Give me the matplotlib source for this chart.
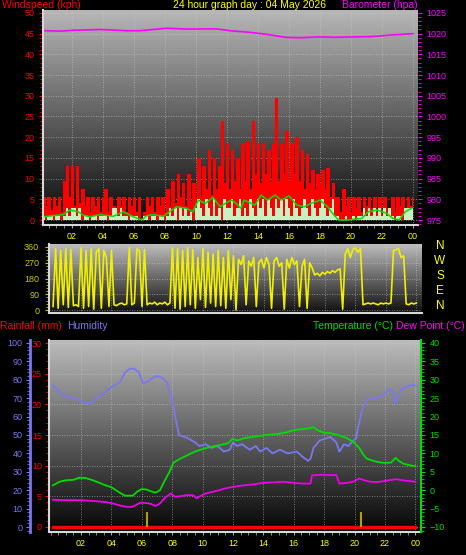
import numpy as np
import matplotlib
matplotlib.use("Agg")
import matplotlib.pyplot as plt
from matplotlib.ticker import MultipleLocator

plt.rcParams["font.family"] = ["Liberation Sans", "DejaVu Sans"]

# ---- data ----
hours = [2, 4, 6, 8, 10, 12, 14, 16, 18, 20, 22, 24]
hour_labels = ["02", "04", "06", "08", "10", "12", "14", "16", "18", "20", "22", "00"]

# 10 minute samples for windspeed / direction
wind_t = np.arange(1, 145) / 6.0
gust = [
    5.5, 3.5, 5.5, 2.5, 5.5, 3.5,      # 00
    5.5, 2.0, 9.5, 13.0, 5.5, 13.0,    # 01
    3.5, 13.0, 4.0, 7.5, 3.5, 5.5,     # 02
    2.0, 5.5, 3.5, 5.5, 2.0, 5.5,      # 03
    7.5, 2.0, 5.5, 3.5, 1.5, 5.5,      # 04
    3.5, 5.5, 2.0, 5.5, 3.5, 5.5,      # 05
    2.0, 5.5, 0.5, 2.0, 5.5, 3.5,      # 06
    5.5, 2.0, 5.5, 3.5, 5.5, 2.0,      # 07
    7.5, 3.5, 9.5, 4.0, 11.0, 5.5,     # 08
    9.0, 3.5, 11.0, 4.5, 9.0, 5.5,     # 09
    15.0, 5.5, 13.0, 7.5, 17.0, 6.0,   # 10
    15.0, 7.5, 13.0, 24.0, 9.0, 18.5,  # 11
    7.5, 17.0, 9.5, 15.0, 7.5, 18.5,   # 12
    9.5, 19.0, 7.5, 24.0, 11.0, 18.5,  # 13
    9.0, 18.5, 11.0, 17.0, 9.5, 18.5,  # 14
    29.5, 9.5, 18.5, 11.0, 21.5, 9.5,  # 15
    18.5, 11.0, 20.0, 9.5, 17.0, 7.5,  # 16
    16.0, 9.0, 12.0, 7.5, 11.0, 9.0,   # 17
    12.0, 7.5, 12.5, 5.5, 9.0, 5.5,    # 18
    5.5, 2.0, 7.5, 3.5, 5.5, 2.0,      # 19
    5.5, 3.0, 5.5, 2.0, 5.5, 3.5,      # 20
    5.5, 3.0, 5.5, 2.0, 5.5, 1.5,      # 21
    5.5, 3.0, 1.5, 5.5, 2.0, 5.5,      # 22
    3.5, 5.5, 3.0, 5.5, 3.5, 5.5,      # 23
]
speed = [
    1, 0, 1, 1, 0, 1,
    1, 0, 1, 3, 1, 3,
    3, 1, 3, 0, 1, 1,
    0, 1, 1, 0, 1, 1,
    1, 0, 1, 3, 3, 1,
    3, 1, 1, 0, 1, 1,
    1, 0, 0, 1, 1, 0,
    1, 1, 0, 1, 1, 0,
    1, 3, 1, 3, 0, 3,
    1, 3, 1, 2, 0, 3,
    5, 3, 1, 5, 3, 1,
    5, 1, 3, 0, 5, 3,
    3, 5, 1, 3, 5, 1,
    3, 1, 5, 3, 1, 5,
    3, 5, 1, 5, 3, 1,
    5, 3, 5, 1, 5, 3,
    1, 5, 3, 1, 3, 5,
    3, 1, 5, 3, 1, 3,
    5, 3, 1, 3, 5, 1,
    1, 0, 0, 1, 0, 0,
    1, 0, 1, 1, 3, 1,
    3, 1, 3, 1, 3, 1,
    3, 1, 3, 1, 0, 1,
    1, 0, 3, 3, 3, 3,
]
avg_t = [0.26, 0.6, 1.44, 1.87, 2.4, 2.7, 3.16, 3.8, 4.67, 5.3, 5.95, 6.5, 6.8,
         7.2, 7.9, 8.3, 8.75, 9.4, 9.8, 10.15, 10.6, 11.1, 11.55, 12.06, 12.3,
         12.6, 12.9, 13.1, 13.8, 14.2, 14.6, 15.1, 15.5, 16.0, 16.5, 17.0, 17.4,
         18.0, 18.5, 18.8, 19.2, 19.8, 20.7, 21.1, 21.7, 22.3, 22.7, 23.1, 23.5,
         23.9]
avg_v = [0.8, 1.0, 1.3, 2.4, 2.0, 1.2, 0.8, 1.3, 0.9, 2.0, 0.8, 0.0, 1.0,
         1.3, 0.9, 2.0, 3.2, 2.8, 2.0, 4.8, 4.0, 5.5, 3.2, 4.4, 4.8,
         4.0, 2.8, 4.8, 3.6, 6.0, 4.8, 6.0, 4.8, 5.8, 3.6, 3.2, 4.0,
         4.8, 3.2, 1.6, 0.0, 0.0, 0.4, 2.0, 2.4, 1.6, 0.4, 0.0, 2.0,
         2.8]
baro_t = [0.26, 1.2, 2.1, 3.8, 5.5, 6.4, 8.1, 9.4, 11.3, 12.2, 13.5, 14.6,
          15.8, 16.7, 18.0, 18.9, 20.2, 21.4, 22.7, 24.0]
baro_v = [1020.7, 1020.6, 1020.8, 1021.0, 1020.7, 1020.7, 1021.3, 1021.1,
          1021.15, 1020.7, 1020.3, 1019.8, 1019.1, 1019.0, 1019.2, 1019.1,
          1019.2, 1019.3, 1019.7, 1020.0]

wind_dir = [
    20, 350, 10, 340, 30, 350,
    15, 345, 25, 30, 20, 355,
    10, 340, 20, 350, 5, 330,
    350, 10, 340, 300, 20, 340,
    30, 25, 35, 40, 30, 35,
    355, 30, 40, 350, 340, 20,
    345, 30, 40, 35, 45, 30,
    40, 35, 45, 30, 40, 355,
    10, 350, 5, 340, 20, 355,
    30, 345, 10, 300, 60, 350,
    15, 330, 40, 320, 20, 340,
    25, 300, 10, 340, 60, 310,
    0, 290, 260, 310, 30, 280,
    250, 300, 20, 270, 290, 240,
    300, 260, 10, 280, 300, 250,
    270, 5, 290, 240, 300, 260,
    280, 20, 250, 290, 10, 270,
    240, 200, 210, 195, 215, 205,
    220, 210, 225, 215, 230, 235,
    5, 320, 350, 300, 345, 355,
    330, 350, 30, 35, 40, 35,
    40, 35, 30, 40, 35, 40,
    35, 40, 340, 345, 350, 300,
    310, 35, 30, 40, 35, 40,
]

hum_t = [0.15, 0.5, 1.0, 1.6, 2.15, 2.6, 2.9, 3.4, 3.8, 4.25, 4.6, 4.9, 5.2, 5.5,
         5.8, 6.1, 6.4, 6.7, 7.0, 7.4, 7.7, 7.9, 8.1, 8.25, 8.45, 8.8, 9.1, 9.5,
         9.8, 10.2, 10.6, 11.0, 11.4, 11.8, 12.0, 12.25, 12.6, 13.1, 13.5, 13.8,
         14.2, 14.6, 15.1, 15.6, 16.2, 16.6, 16.95, 17.1, 17.3, 17.7, 18.1, 18.4,
         18.8, 19.0, 19.3, 19.6, 19.9, 20.1, 20.25, 20.45, 20.6, 20.8, 21.1, 21.4,
         21.8, 22.3, 22.5, 22.65, 22.9, 23.1, 23.4, 23.65, 24.0]
hum_v = [77, 74, 71, 70, 68, 67, 69, 72, 75, 77, 79, 84, 86, 86,
         84, 78, 79, 81, 82, 81, 78, 72, 65, 58, 50, 49, 48, 46,
         44, 45, 43, 44, 41, 42, 46, 44, 45, 42, 44, 41,
         43, 40, 42, 40, 41, 38, 36, 37, 43, 47, 48, 49,
         46, 41, 45, 44, 47, 48, 55, 62, 66, 69, 70, 70,
         71, 75, 74, 67, 71, 75, 76, 77, 77]

temp_t = [0.15, 0.6, 1.0, 1.5, 1.9, 2.3, 2.7, 3.1, 3.5, 4.0, 4.3, 4.6, 4.9, 5.4,
          5.7, 6.0, 6.3, 6.6, 6.9, 7.2, 7.5, 7.8, 8.1, 8.5, 8.9, 9.5, 10.2, 10.8,
          11.3, 11.7, 11.95, 12.3, 12.8, 13.5, 14.2, 15.0, 15.6, 16.0, 16.6, 17.0,
          17.3, 17.6, 18.0, 18.4, 18.9, 19.4, 19.9, 20.3, 20.6, 20.8, 21.2, 21.6,
          22.0, 22.4, 22.7, 22.9, 23.2, 23.6, 24.0]
temp_v = [1.3, 2.3, 2.7, 2.8, 3.4, 3.3, 2.8, 2.2, 1.5, 0.8, 0.0, -0.8, -1.5, -1.5,
          -0.4, 0.3, 0.2, -0.3, -0.7, 0.0, 2.5, 4.8, 7.5, 8.5, 9.3, 10.5, 11.4, 12.0,
          12.4, 12.8, 13.9, 13.5, 14.2, 14.6, 15.0, 15.3, 15.8, 16.3, 16.6, 16.8,
          17.1, 16.2, 15.6, 15.5, 15.0, 14.3, 13.2, 11.5, 9.5, 8.6, 8.0, 7.6,
          7.4, 7.5, 8.8, 8.0, 7.2, 6.8, 6.5]

dew_t = [0.15, 1.0, 2.0, 3.0, 3.6, 4.1, 4.6, 5.0, 5.4, 5.9, 6.3, 6.6, 6.9, 7.2,
         7.5, 7.9, 8.2, 8.6, 9.0, 9.4, 9.6, 9.9, 10.2, 10.6, 11.1, 11.5, 12.0,
         12.5, 12.9, 13.4, 14.0, 14.6, 15.3, 16.0, 16.5, 17.1, 17.2, 17.8, 18.4,
         18.8, 19.0, 19.5, 19.9, 20.3, 20.7, 21.0, 21.5, 22.0, 22.7, 23.3, 24.0]
dew_v = [-2.6, -2.7, -2.7, -3.0, -3.2, -3.6, -4.2, -4.5, -4.5, -3.4, -3.5, -3.7,
         -4.3, -3.6, -2.2, -0.9, -1.8, -1.6, -1.3, -1.4, -2.2, -1.5, -0.9, -0.5,
         0.0, 0.5, 0.9, 1.2, 1.4, 1.6, 2.0, 2.1, 2.3, 2.0, 1.8, 1.8, 4.0, 4.2,
         4.1, 4.1, 1.8, 2.0, 2.3, 3.2, 2.6, 2.3, 2.2, 2.5, 3.0, 2.6, 2.3]

rain_t = [0.15, 24.0]
rain_v = [0.0, 0.0]
rate_t = [6.32, 20.4]
rate_v = [2.5, 2.5]

RED = "#ff0000"
MAG = "#ff00ff"
YEL = "#ffff00"
OLIVE = "#c8c800"
HUM = "#7878f0"
GRN = "#00dd00"
W, H = 466, 555
TS = 6.5


def box(l, t, r, b):
    return [l / W, 1 - b / H, (r - l) / W, (b - t) / H]


def shade(ax, top, bottom):
    g = np.linspace(top, bottom, 256).reshape(-1, 1)
    ax.imshow(g, cmap="gray", vmin=0, vmax=1, aspect="auto",
              extent=[0, 1, 0, 1], transform=ax.transAxes, zorder=0)


def frame(ax):
    for s in ax.spines.values():
        s.set_visible(False)
    for s in ("left", "bottom"):
        ax.spines[s].set_visible(True)
        ax.spines[s].set_color("#d8d8d8")
        ax.spines[s].set_linewidth(1.5)
    ax.grid(True, color="#d0d0d0", ls=(0, (1, 2)), lw=0.6, alpha=0.7)


fig = plt.figure(figsize=(W / 100, H / 100), dpi=100, facecolor="black")

# --- top panel: wind speed + barometer ---
ax = fig.add_axes(box(43, 10, 418, 225))
shade(ax, 0.72, 0.03)
ax.fill_between(wind_t, 0, gust, step="mid", color=RED, lw=0, zorder=2)
ax.plot(wind_t, gust, color=RED, lw=0.8, drawstyle="steps-mid", zorder=2)
ax.fill_between(wind_t, 0, speed, step="mid", color="#c8f0c0", lw=0, zorder=3)
ax.plot(avg_t, avg_v, color="#00e000", lw=1.1, zorder=4)
ax.set_xlim(0.13, 24.32)
ax.set_ylim(-1.2, 50.7)
ax.set_xticks(hours)
ax.set_xticklabels(hour_labels)
ax.xaxis.set_minor_locator(MultipleLocator(0.5))
ax.yaxis.set_major_locator(MultipleLocator(5))
ax.yaxis.set_minor_locator(MultipleLocator(1))
ax.tick_params(axis="x", which="both", colors="#a0a0a0", labelcolor=YEL,
               labelsize=TS, length=2, pad=3)
ax.tick_params(axis="y", which="both", colors=RED, labelsize=TS, length=3, pad=3)
ax.tick_params(axis="y", which="minor", length=2)
frame(ax)

bx = ax.twinx()
bx.plot(baro_t, baro_v, color=MAG, lw=1.2)
bx.set_ylim(973.8, 1025.7)
bx.yaxis.set_major_locator(MultipleLocator(5))
bx.yaxis.set_minor_locator(MultipleLocator(1))
bx.tick_params(axis="y", which="both", colors=MAG, labelsize=TS, length=3, pad=3)
bx.tick_params(axis="y", which="minor", length=2)
for s in bx.spines.values():
    s.set_visible(False)

# --- middle panel: wind direction ---
dx = fig.add_axes(box(49, 244, 422, 313))
shade(dx, 0.74, 0.06)
dx.plot(wind_t, wind_dir, color="#f0f000", lw=1.2, zorder=2)
dx.set_xlim(-0.1, 24.37)
dx.set_ylim(-17, 377)
dx.set_xticks(hours)
dx.set_xticklabels([])
dx.tick_params(axis="x", length=0)
dx.yaxis.set_major_locator(MultipleLocator(90))
dx.yaxis.set_minor_locator(MultipleLocator(18))
dx.tick_params(axis="y", which="both", colors=OLIVE, labelsize=TS, length=3, pad=4)
dx.tick_params(axis="y", which="minor", length=2)
frame(dx)

# --- bottom panel: rain, humidity, temperature, dew point ---
rx = fig.add_axes(box(49, 340, 421, 532))
shade(rx, 0.74, 0.02)
rx.plot(rain_t, rain_v, color=RED, lw=2.5, zorder=3)
rx.vlines(rate_t, 0, rate_v, color="#b0a000", lw=1.5, zorder=3)
rx.set_xlim(-0.1, 24.37)
rx.set_ylim(-0.82, 30.5)
rx.set_xticks(hours)
rx.set_xticklabels(hour_labels)
rx.xaxis.set_minor_locator(MultipleLocator(0.5))
rx.yaxis.set_major_locator(MultipleLocator(5))
rx.yaxis.set_minor_locator(MultipleLocator(1))
rx.tick_params(axis="x", which="both", colors="#a0a0a0", labelcolor=YEL,
               labelsize=TS, length=2, pad=3)
rx.tick_params(axis="y", which="both", colors=RED, labelsize=TS, length=3, pad=2)
rx.tick_params(axis="y", which="minor", length=2)
frame(rx)

hx = rx.twinx()
hx.plot(hum_t, hum_v, color=HUM, lw=1.3)
hx.set_ylim(-2.7, 101.6)
hx.yaxis.tick_left()
for s in hx.spines.values():
    s.set_visible(False)
hx.spines["left"].set_visible(True)
hx.spines["left"].set_position(("outward", 14))
hx.spines["left"].set_color(HUM)
hx.spines["left"].set_linewidth(2)
hx.yaxis.set_major_locator(MultipleLocator(10))
hx.yaxis.set_minor_locator(MultipleLocator(2))
hx.tick_params(axis="y", which="both", colors=HUM, labelsize=TS, length=3, pad=2)
hx.tick_params(axis="y", which="minor", length=2)

tx = rx.twinx()
tx.plot(temp_t, temp_v, color=GRN, lw=1.3)
tx.plot(dew_t, dew_v, color="#ee00ee", lw=1.3)
tx.set_ylim(-11.36, 40.8)
for s in tx.spines.values():
    s.set_visible(False)
tx.spines["right"].set_visible(True)
tx.spines["right"].set_color(GRN)
tx.spines["right"].set_linewidth(1.5)
tx.yaxis.set_major_locator(MultipleLocator(5))
tx.yaxis.set_minor_locator(MultipleLocator(1))
tx.tick_params(axis="y", which="both", colors=GRN, labelsize=TS, length=3, pad=3)
tx.tick_params(axis="y", which="minor", length=2)

# --- texts ---
def ptext(x, y, s, c, ha="left", size=7.5):
    fig.text(x / W, 1 - y / H, s, color=c, ha=ha, va="center", fontsize=size)

ptext(2, 5, "Windspeed (kph)", RED)
ptext(250, 5, "24 hour graph day : 04 May 2026", YEL, ha="center")
ptext(418, 5, "Barometer (hpa)", MAG, ha="right")
ptext(0, 326, "Rainfall (mm)", RED)
ptext(67, 326, "Humidity", HUM)
ptext(313, 326, "Temperature (\u00b0C)", GRN)
ptext(465, 326, "Dew Point (\u00b0C)", MAG, ha="right")
for y, s in zip([246, 261, 276, 291, 306], ["N", "W", "S", "E", "N"]):
    ptext(440, y, s, YEL, ha="center", size=8.5)

fig.savefig("out.png", dpi=100, facecolor="black")
